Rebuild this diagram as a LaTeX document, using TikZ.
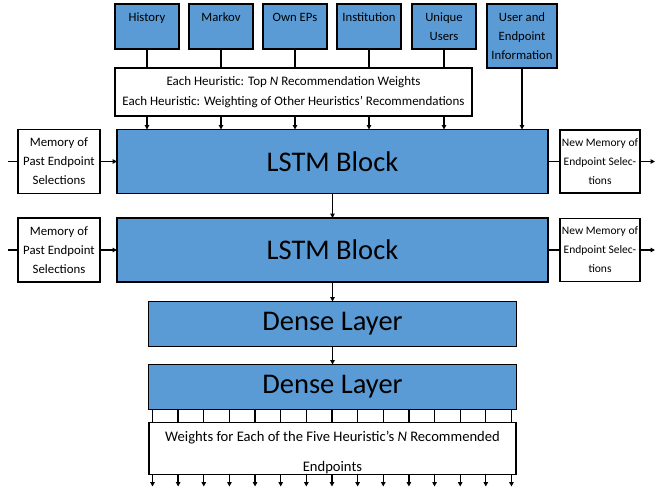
\documentclass[tikz,border=0pt]{standalone}
\usepackage{fontspec}
\setmainfont{Carlito}
\usepackage{tikz}
\usetikzlibrary{positioning, arrows.meta, calc}
\definecolor{layer}{HTML}{5B9BD5}

% text hung from the top of a box
\newcommand{\headtext}[3]{\parbox[c][#2][t]{#1}{\centering\rule{0pt}{17pt}#3}}

\begin{document}
\begin{tikzpicture}[x=1pt, y=-1pt,
    every node/.style={font=\fontsize{12.7}{19}\selectfont},
    box/.style={rectangle, draw=black, line width=1.5pt, fill=layer,
      inner sep=0pt, outer sep=0pt, align=center},
    wbox/.style={box, fill=white},
    heur/.style={box, minimum width=64pt, minimum height=45pt},
    big/.style={box, font=\fontsize{28.5}{34}\selectfont},
    ln/.style={line width=1.3pt},
    arr/.style={ln, -{Triangle[length=4.5pt, width=4.5pt]}}]

  \useasboundingbox (0,0) rectangle (660,488);

  % heuristics
  \node[heur, anchor=north] (hist) at (147,4) {\headtext{60pt}{45pt}{History}};
  \node[heur, right=10pt of hist] (mark) {\headtext{60pt}{45pt}{Markov}};
  \node[heur, right=10pt of mark] (own) {\headtext{60pt}{45pt}{Own EPs}};
  \node[heur, right=10pt of own] (inst) {\headtext{60pt}{45pt}{Institution}};
  \node[heur, right=11pt of inst] (uniq) {\headtext{60pt}{45pt}{Unique\\Users}};
  \node[heur, minimum width=70pt, minimum height=64pt, anchor=north west]
    (user) at ($(uniq.north east)+(11,0)$)
    {\headtext{66pt}{64pt}{User and\\Endpoint\\Information}};

  \node[wbox, minimum width=357pt, minimum height=48pt,
    font=\fontsize{13}{20}\selectfont] (wtop) at (293.5,92)
    {Each Heuristic: Top \textit{N} Recommendation Weights\\
     Each Heuristic: Weighting of Other Heuristics' Recommendations};

  % layers
  \node[big, minimum width=431pt, minimum height=64pt] (lstmA) at (332.5,161.5) {LSTM Block};
  \node[big, minimum width=431pt, minimum height=64pt, below=24.5pt of lstmA] (lstmB) {LSTM Block};
  \node[big, minimum width=368pt, minimum height=45pt, below=19.5pt of lstmB] (denseA) {Dense Layer};
  \node[big, minimum width=368pt, minimum height=45pt, below=18pt of denseA] (denseB) {Dense Layer};
  \node[wbox, minimum width=367pt, minimum height=52pt, below=13pt of denseB,
    font=\fontsize{14.6}{30}\selectfont] (out)
    {\rule{0pt}{19pt}Weights for Each of the Five Heuristic's \textit{N} Recommended\\Endpoints};

  % memory
  \node[wbox, minimum width=82pt, minimum height=64pt, left=17pt of lstmA,
    font=\fontsize{12.8}{19}\selectfont] (memA) {Memory of\\Past Endpoint\\Selections};
  \node[wbox, minimum width=82pt, minimum height=64pt, left=17pt of lstmB,
    font=\fontsize{12.8}{19}\selectfont] (memB) {Memory of\\Past Endpoint\\Selections};
  \node[wbox, minimum width=80pt, minimum height=63pt, right=12pt of lstmA,
    font=\fontsize{11.5}{19}\selectfont] (newA) {New Memory of\\Endpoint Selec-\\tions};
  \node[wbox, minimum width=80pt, minimum height=63pt, right=12pt of lstmB,
    font=\fontsize{11.5}{19}\selectfont] (newB) {New Memory of\\Endpoint Selec-\\tions};

  \coordinate (inA) at ($(memA.west)+(-10,0)$);
  \coordinate (inB) at ($(memB.west)+(-10,0)$);
  \coordinate (outA) at ($(newA.east)+(15,0)$);
  \coordinate (outB) at ($(newB.east)+(15,0)$);

  % connectors
  \foreach \h in {hist, mark, own, inst, uniq} {
    \draw[ln] (\h) -- (\h |- wtop.north);
    \draw[arr] (\h |- wtop.south) -- (\h |- lstmA.north);
  }
  \draw[arr] (user) -- (user |- lstmA.north);

  \draw[ln] (inA) -- (memA);
  \draw[arr] (memA) -- (lstmA);
  \draw[ln] (lstmA) -- (newA);
  \draw[arr] (newA) -- (outA);
  \draw[ln] (inB) -- (memB);
  \draw[arr] (memB) -- (lstmB);
  \draw[ln] (lstmB) -- (newB);
  \draw[arr] (newB) -- (outB);

  \draw[arr] (lstmA) -- (lstmB);
  \draw[arr] (lstmB) -- (denseA);
  \draw[arr] (denseA) -- (denseB);

  \foreach \i in {0,...,14} {
    \coordinate (t\i) at ($(denseB.south west)+(4+25.64*\i,0)$);
    \coordinate (e\i) at ($(t\i |- out.south)+(0,12)$);
    \draw[ln] (t\i) -- (t\i |- out.north);
    \draw[arr] (t\i |- out.south) -- (e\i);
  }
\end{tikzpicture}
\end{document}
